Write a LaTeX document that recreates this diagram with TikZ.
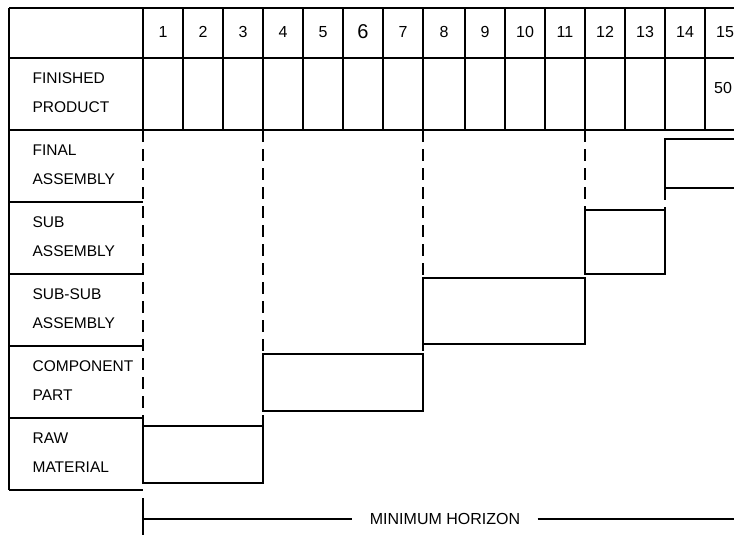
\documentclass[tikz,border=0pt]{standalone}
\usepackage{fontspec}
\setmainfont{Liberation Sans}
\begin{document}
\begin{tikzpicture}[x=1pt,y=-1pt, line width=1.2pt,
  lbl/.style={anchor=west, align=left, font=\fontsize{15.5}{29}\selectfont, inner sep=0},
  num/.style={font=\fontsize{16}{18}\selectfont, inner sep=0},
  bar/.style={draw, rectangle, anchor=north west, inner sep=0, outer sep=0},
  guide/.style={dash pattern=on 12pt off 7pt},
]
\useasboundingbox (0,0) rectangle (734,535);
\clip (0,0) rectangle (734,535);
% table frame
\draw (9,8) -- (745,8);
\draw (9,58) -- (745,58);
\draw (9,130) -- (745,130);
\draw (9,8) -- (9,490);
\foreach \x in {143,183,223,263,303,343,383,423,465,505,545,585,625,665,705}
  \draw (\x,8) -- (\x,130);
\foreach \y in {202,274,346,418,490}
  \draw (9,\y) -- (143,\y);
% column numbers
\foreach \a/\b [count=\i] in {143/183,183/223,223/263,263/303,303/343,343/383,383/423,423/465,465/505,505/545,545/585,585/625,625/665,665/705,705/745}{
  \ifnum\i=6
    \node[num, font=\fontsize{20}{22}\selectfont] (n\i) at ({(\a+\b)/2},32) {\i};
  \else
    \node[num] (n\i) at ({(\a+\b)/2},32) {\i};
  \fi
}
\node[num] (fifty) at (723,88) {50};
% row labels
\node[lbl] (lfp) at (32,92.5) {FINISHED\\PRODUCT};
\node[lbl] (lfa) at (32,164.5) {FINAL\\ASSEMBLY};
\node[lbl] (lsa) at (32,236.5) {SUB\\ASSEMBLY};
\node[lbl] (lssa) at (32,308.5) {SUB-SUB\\ASSEMBLY};
\node[lbl] (lcp) at (32,380.5) {COMPONENT\\PART};
\node[lbl] (lrm) at (32,452.5) {RAW\\MATERIAL};
% lead time bars
\node[bar, minimum width=120pt, minimum height=57pt] (raw) at (143,426) {};
\node[bar, minimum width=160pt, minimum height=57pt] (comp) at (263,354) {};
\node[bar, minimum width=162pt, minimum height=66pt] (subsub) at (423,278) {};
\node[bar, minimum width=80pt, minimum height=64pt] (sub) at (585,210) {};
\node[bar, minimum width=100pt, minimum height=49pt] (final) at (665,139) {};
% dashed guides
\coordinate (g1) at (143,130);
\coordinate (g2) at (263,130);
\coordinate (g3) at (423,130);
\coordinate (g4) at (585,130);
\draw[guide] (g1) -- (raw.north west);
\draw[guide] (g2) -- (raw.north east);
\draw[guide] (g3) -- (comp.north east);
\draw[guide] (g4) -- (subsub.north east);
\draw[guide] (final.south west) -- (sub.north east);
% minimum horizon
\coordinate (h0) at (143,498);
\coordinate (h1) at (143,540);
\coordinate (h2) at (143,519);
\coordinate (h3) at (745,519);
\draw (h0) -- (h1);
\node[font=\fontsize{16}{18}\selectfont, inner xsep=17pt, inner ysep=0] (mh) at (445,519) {MINIMUM HORIZON};
\draw (h2) -- (mh.west);
\draw (mh.east) -- (h3);
\end{tikzpicture}
\end{document}
